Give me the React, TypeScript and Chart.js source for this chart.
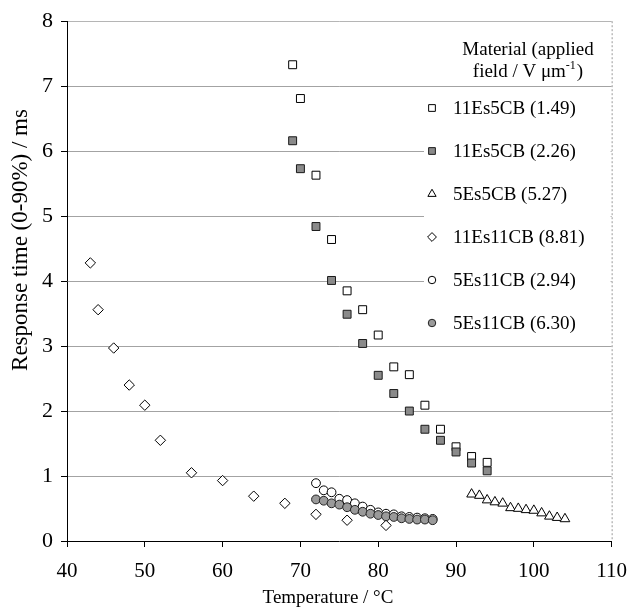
import React, { useEffect, useRef } from 'react';
import { Chart, registerables } from 'chart.js';

Chart.register(...registerables);

const FONT = '"Liberation Serif", "Times New Roman", serif';

// Axis ticks
const xTickValues = [40, 50, 60, 70, 80, 90, 100, 110];
const yTickValues = [0, 1, 2, 3, 4, 5, 6, 7, 8];

// Series: 11Es5CB (1.49) - open squares
const s1T = [69, 70, 72, 74, 76, 78, 80, 82, 84, 86, 88, 90, 92, 94];
const s1Y = [7.33, 6.81, 5.63, 4.64, 3.85, 3.56, 3.17, 2.68, 2.56, 2.09, 1.72, 1.45, 1.3, 1.21];

// Series: 11Es5CB (2.26) - filled squares
const s2T = [69, 70, 72, 74, 76, 78, 80, 82, 84, 86, 88, 90, 92, 94];
const s2Y = [6.16, 5.73, 4.84, 4.01, 3.49, 3.04, 2.55, 2.27, 2.0, 1.72, 1.55, 1.37, 1.2, 1.08];

// Series: 5Es5CB (5.27) - triangles
const s3T = [92, 93, 94, 95, 96, 97, 98, 99, 100, 101, 102, 103, 104];
const s3Y = [0.72, 0.7, 0.63, 0.6, 0.58, 0.51, 0.5, 0.48, 0.47, 0.43, 0.38, 0.36, 0.34];

// Series: 11Es11CB (8.81) - diamonds
const s4T = [43, 44, 46, 48, 50, 52, 56, 60, 64, 68, 72, 76, 81];
const s4Y = [4.28, 3.56, 2.97, 2.4, 2.09, 1.55, 1.05, 0.93, 0.69, 0.58, 0.41, 0.32, 0.24];

// Series: 5Es11CB (2.94) - open circles
const s5T = [72, 73, 74, 75, 76, 77, 78, 79, 80, 81, 82, 83, 84, 85, 86, 87];
const s5Y = [0.89, 0.78, 0.75, 0.65, 0.63, 0.58, 0.53, 0.48, 0.44, 0.42, 0.41, 0.38, 0.37, 0.36, 0.35, 0.34];

// Series: 5Es11CB (6.30) - filled circles
const s6T = [72, 73, 74, 75, 76, 77, 78, 79, 80, 81, 82, 83, 84, 85, 86, 87];
const s6Y = [0.64, 0.62, 0.58, 0.56, 0.52, 0.48, 0.45, 0.42, 0.4, 0.38, 0.37, 0.35, 0.34, 0.33, 0.33, 0.32];

const seriesLabels = [
  '11Es5CB (1.49)',
  '11Es5CB (2.26)',
  '5Es5CB (5.27)',
  '11Es11CB (8.81)',
  '5Es11CB (2.94)',
  '5Es11CB (6.30)',
];

const legendTitleLine1 = 'Material (applied';
const legendTitleLine2 = 'field / V \u03bcm';
const legendTitleSup = '-1';
const legendTitleEnd = ')';
const xTitle = 'Temperature / \u00b0C';
const yTitle = 'Response time (0-90%) / ms';

const styles = [
  { shape: 'rect', fill: '#ffffff', stroke: '#000000', r: 5.6 },
  { shape: 'rect', fill: '#8a8a8a', stroke: '#1a1a1a', r: 5.6 },
  { shape: 'triangle', fill: '#ffffff', stroke: '#000000', r: 5.6 },
  { shape: 'rectRot', fill: '#ffffff', stroke: '#000000', r: 5.2 },
  { shape: 'circle', fill: '#ffffff', stroke: '#000000', r: 4.4 },
  { shape: 'circle', fill: '#9a9a9a', stroke: '#222222', r: 4.4 },
];

const seriesT = [s1T, s2T, s3T, s4T, s5T, s6T];
const seriesY = [s1Y, s2Y, s3Y, s4Y, s5Y, s6Y];

function drawMarker(ctx: CanvasRenderingContext2D, shape: string, x: number, y: number, r: number, fill: string, stroke: string) {
  ctx.save();
  ctx.beginPath();
  if (shape === 'rect') {
    const h = r * Math.SQRT1_2;
    ctx.rect(x - h, y - h, 2 * h, 2 * h);
  } else if (shape === 'triangle') {
    for (let i = 0; i < 3; i++) {
      const a = (i * 2 * Math.PI) / 3;
      const px = x + Math.sin(a) * r;
      const py = y - Math.cos(a) * r;
      if (i === 0) ctx.moveTo(px, py);
      else ctx.lineTo(px, py);
    }
    ctx.closePath();
  } else if (shape === 'rectRot') {
    ctx.moveTo(x, y - r);
    ctx.lineTo(x + r, y);
    ctx.lineTo(x, y + r);
    ctx.lineTo(x - r, y);
    ctx.closePath();
  } else {
    ctx.arc(x, y, r, 0, Math.PI * 2);
  }
  ctx.fillStyle = fill;
  ctx.fill();
  ctx.strokeStyle = stroke;
  ctx.lineWidth = 1;
  ctx.stroke();
  ctx.restore();
}

const decorPlugin = {
  id: 'decor',
  beforeDatasetsDraw(chart: any) {
    const ctx = chart.ctx as CanvasRenderingContext2D;
    const a = chart.chartArea;
    ctx.save();
    // dotted right border
    ctx.strokeStyle = '#9a9a9a';
    ctx.lineWidth = 1;
    ctx.setLineDash([2, 2]);
    ctx.beginPath();
    ctx.moveTo(a.right + 0.5, a.top);
    ctx.lineTo(a.right + 0.5, a.bottom);
    ctx.stroke();
    ctx.setLineDash([]);
    // legend background
    ctx.fillStyle = '#ffffff';
    ctx.fillRect(424, 88, a.right - 424 - 1, 252);
    ctx.restore();
  },
  afterDraw(chart: any) {
    const ctx = chart.ctx as CanvasRenderingContext2D;
    ctx.save();
    ctx.fillStyle = '#000000';
    // x title
    ctx.font = `19px ${FONT}`;
    ctx.textAlign = 'center';
    ctx.textBaseline = 'middle';
    ctx.fillText(xTitle, 328, 598);
    // y title
    ctx.save();
    ctx.translate(21, 240);
    ctx.rotate(-Math.PI / 2);
    ctx.font = `23px ${FONT}`;
    ctx.fillText(yTitle, 0, 0);
    ctx.restore();

    // legend title
    ctx.font = `19px ${FONT}`;
    ctx.textAlign = 'center';
    ctx.textBaseline = 'alphabetic';
    ctx.fillText(legendTitleLine1, 528, 55);
    ctx.textAlign = 'left';
    const w1 = ctx.measureText(legendTitleLine2).width;
    ctx.font = `12px ${FONT}`;
    const w2 = ctx.measureText(legendTitleSup).width;
    ctx.font = `19px ${FONT}`;
    const w3 = ctx.measureText(legendTitleEnd).width;
    const total = w1 + w2 + w3 + 1;
    let sx = 528 - total / 2;
    ctx.fillText(legendTitleLine2, sx, 77);
    sx += w1;
    ctx.font = `12px ${FONT}`;
    ctx.fillText(legendTitleSup, sx, 69);
    sx += w2 + 1;
    ctx.font = `19px ${FONT}`;
    ctx.fillText(legendTitleEnd, sx, 77);

    // legend items
    ctx.textBaseline = 'middle';
    ctx.textAlign = 'left';
    for (let i = 0; i < seriesLabels.length; i++) {
      const y = 108 + i * 43;
      const st = styles[i];
      drawMarker(ctx, st.shape, 432, y, st.r * 0.85, st.fill, st.stroke);
      ctx.fillStyle = '#000000';
      ctx.font = `19px ${FONT}`;
      ctx.fillText(seriesLabels[i], 453, y + 1);
    }
    ctx.restore();
  },
};

export default function App() {
  const canvasRef = useRef<HTMLCanvasElement | null>(null);

  useEffect(() => {
    if (!canvasRef.current) return;
    const datasets = seriesLabels.map((label, i) => ({
      label,
      data: seriesT[i].map((t, j) => ({ x: t, y: seriesY[i][j] })),
      pointStyle: styles[i].shape,
      pointRadius: styles[i].r,
      pointBackgroundColor: styles[i].fill,
      pointBorderColor: styles[i].stroke,
      pointBorderWidth: 1,
      showLine: false,
      order: 6 - i,
    }));

    const chart = new Chart(canvasRef.current, {
      type: 'scatter',
      data: { datasets },
      plugins: [decorPlugin],
      options: {
        responsive: false,
        animation: false,
        devicePixelRatio: 1,
        layout: { padding: { top: 17, right: 19, left: 0, bottom: 0 } },
        plugins: {
          legend: { display: false },
          tooltip: { enabled: false },
          title: { display: false },
        },
        scales: {
          x: {
            type: 'linear',
            min: 40,
            max: 110,
            afterFit: (s: any) => {
              s.height = 69;
            },
            afterBuildTicks: (s: any) => {
              s.ticks = xTickValues.map((v) => ({ value: v }));
            },
            ticks: {
              color: '#000000',
              font: { family: FONT, size: 21 },
              padding: 12,
              maxRotation: 0,
            },
            grid: {
              drawOnChartArea: false,
              drawTicks: true,
              tickLength: 6,
              tickColor: '#000000',
            },
            border: { color: '#000000', width: 1 },
          },
          y: {
            type: 'linear',
            min: 0,
            max: 8,
            afterFit: (s: any) => {
              s.width = 67;
            },
            afterBuildTicks: (s: any) => {
              s.ticks = yTickValues.map((v) => ({ value: v }));
            },
            ticks: {
              color: '#000000',
              font: { family: FONT, size: 22 },
              padding: 8,
            },
            grid: {
              color: (c: any) => (c.tick && c.tick.value === 0 ? 'rgba(0,0,0,0)' : c.tick && c.tick.value === 8 ? '#b5b5b5' : '#a3a3a3'),
              tickColor: '#000000',
              tickLength: 6,
              lineWidth: 1,
            },
            border: { color: '#000000', width: 1 },
          },
        },
      },
    } as any);

    return () => {
      chart.destroy();
    };
  }, []);

  return (
    <div style={{ position: 'absolute', left: 0, top: 0, width: 639, height: 610, background: '#ffffff' }}>
      <canvas ref={canvasRef} width={639} height={610} style={{ width: 639, height: 610, display: 'block' }} />
    </div>
  );
}
